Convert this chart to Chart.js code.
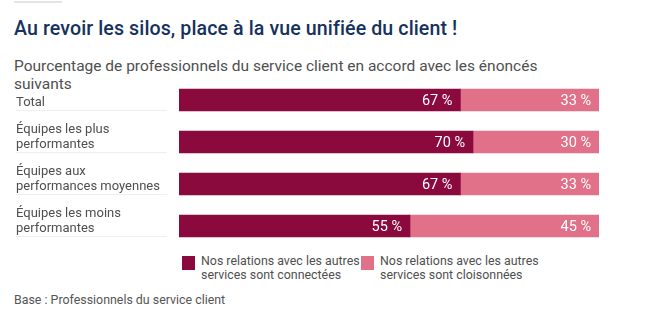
<!DOCTYPE html>
<html lang="fr">
<head>
  <meta charset="UTF-8">
  <title>Au revoir les silos</title>
  <style>
    body { margin: 0; background: #fff; font-family: Roboto, "Noto Sans", sans-serif; }
    #page { position: relative; width: 664px; height: 329px; overflow: hidden; }
    #rule { position: absolute; left: 14px; top: 1px; width: 48px; height: 2px; background: #e4e4e4; }
    h1 { position: absolute; left: 14px; top: 17px; margin: 0; font-size: 19.6px; font-weight: 500; color: #16325c; white-space: nowrap; letter-spacing: 0.1px; }
    h2 { position: absolute; left: 14px; top: 57px; margin: 0; width: 540px; font-size: 15.5px; font-weight: 400; color: #4f4f4f; line-height: 18px; }
    #wrap { position: absolute; left: 0; top: 70px; width: 664px; height: 180px; }
    .leg { position: absolute; top: 254px; font-size: 12.4px; color: #4f4f4f; line-height: 13.5px; }
    .leg span.box { position: absolute; left: 0; top: 2px; width: 13px; height: 14px; }
    .leg div { margin-left: 19px; }
    #foot { position: absolute; left: 14px; top: 292px; font-size: 12.4px; color: #555; }
  </style>
</head>
<body>
<div id="page">
  <div id="rule"></div>
  <h1>Au revoir les silos, place à la vue unifiée du client !</h1>
  <h2>Pourcentage de professionnels du service client en accord avec les énoncés suivants</h2>
  <div id="wrap"><canvas id="chart" width="664" height="180"></canvas></div>
  <div id="legend"></div>
  <div id="foot">Base : Professionnels du service client</div>
</div>

<script src="https://cdn.jsdelivr.net/npm/chart.js"></script>
<script>
  // data
  const categories = [
    ['Total'],
    ['Équipes les plus', 'performantes'],
    ['Équipes aux', 'performances moyennes'],
    ['Équipes les moins', 'performantes']
  ];
  const connected = [67, 70, 67, 55];
  const siloed = [33, 30, 33, 45];
  const seriesNames = [
    ['Nos relations avec les autres', 'services sont connectées'],
    ['Nos relations avec les autres', 'services sont cloisonnées']
  ];
  const colors = ['#8a0a3e', '#e07189'];

  // category labels on the left, bottom aligned on each bar, with a thin rule
  const sideLabels = {
    id: 'sideLabels',
    afterDraw(chart) {
      const ctx = chart.ctx;
      const meta = chart.getDatasetMeta(0);
      ctx.save();
      ctx.font = '13px Roboto, "Noto Sans", sans-serif';
      ctx.textAlign = 'left';
      ctx.textBaseline = 'alphabetic';
      meta.data.forEach((bar, i) => {
        const bottom = bar.y + bar.height / 2;
        const lines = chart.data.labels[i];
        ctx.fillStyle = '#4f4f4f';
        lines.forEach((line, j) => {
          const y = bottom - 5 - (lines.length - 1 - j) * 15;
          ctx.fillText(line, 16, y);
        });
        ctx.fillStyle = '#eeeeee';
        ctx.fillRect(16, Math.round(bottom) - 1, 151, 1);
      });
      ctx.restore();
    }
  };

  // percentage values inside each segment, right aligned
  const valueLabels = {
    id: 'valueLabels',
    afterDatasetsDraw(chart) {
      const ctx = chart.ctx;
      ctx.save();
      ctx.font = '14.5px Roboto, "Noto Sans", sans-serif';
      ctx.fillStyle = '#ffffff';
      ctx.textAlign = 'right';
      ctx.textBaseline = 'middle';
      chart.data.datasets.forEach((ds, d) => {
        chart.getDatasetMeta(d).data.forEach((bar, i) => {
          ctx.fillText(ds.data[i] + ' %', bar.x - 8, bar.y + 1);
        });
      });
      ctx.restore();
    }
  };

  const chart = new Chart(document.getElementById('chart'), {
    type: 'bar',
    data: {
      labels: categories,
      datasets: [
        { label: seriesNames[0].join(' '), data: connected, backgroundColor: colors[0], barThickness: 22 },
        { label: seriesNames[1].join(' '), data: siloed, backgroundColor: colors[1], barThickness: 22 }
      ]
    },
    options: {
      indexAxis: 'y',
      responsive: false,
      animation: false,
      layout: { padding: { left: 179, right: 65, top: 9, bottom: 3 } },
      plugins: { legend: { display: false }, tooltip: { enabled: false } },
      scales: {
        x: { stacked: true, min: 0, max: 100, display: false },
        y: { stacked: true, display: false }
      }
    },
    plugins: [sideLabels, valueLabels]
  });

  // legend under the bars
  const legendLeft = [182, 361];
  const legend = document.getElementById('legend');
  seriesNames.forEach((lines, i) => {
    const item = document.createElement('div');
    item.className = 'leg';
    item.style.left = legendLeft[i] + 'px';
    item.innerHTML = '<span class="box" style="background:' + colors[i] + '"></span><div>' + lines.join('<br>') + '</div>';
    legend.appendChild(item);
  });
</script>
</body>
</html>
